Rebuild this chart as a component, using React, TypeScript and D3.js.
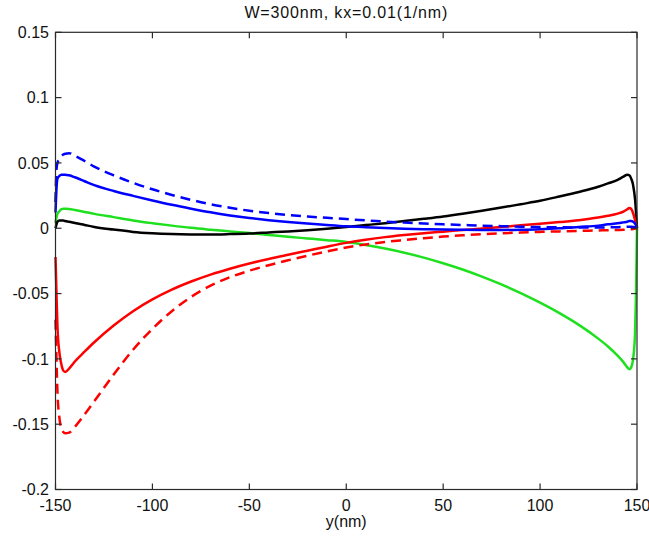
import React from "react";
import * as d3 from "d3";

// sample positions along y (nm)
const yPos = [-150, -149.5, -149, -148, -147, -146, -145, -143, -140, -135, -130, -120, -110, -100, -90, -80, -70, -60, -50, -40, -30, -20, -10, 0, 10, 20, 30, 40, 50, 60, 70, 80, 90, 100, 110, 120, 130, 135, 140, 143, 145, 146, 147, 148, 149, 149.5, 150];

const blackSolid = [0, 0.003, 0.005, 0.006, 0.006, 0.006, 0.0055, 0.005, 0.004, 0.0025, 0.001, -0.001, -0.0028, -0.0038, -0.0044, -0.0047, -0.0048, -0.0045, -0.004, -0.0032, -0.0024, -0.0015, -0.0004, 0.0009, 0.0024, 0.0039, 0.0055, 0.0072, 0.009, 0.0111, 0.0134, 0.0158, 0.0184, 0.021, 0.0243, 0.0278, 0.0318, 0.0343, 0.037, 0.0395, 0.041, 0.0405, 0.038, 0.033, 0.022, 0.012, 0];

const blueSolid = [0.012, 0.03, 0.038, 0.04, 0.041, 0.041, 0.041, 0.0405, 0.039, 0.036, 0.033, 0.0285, 0.0248, 0.0213, 0.018, 0.015, 0.0122, 0.0098, 0.0078, 0.0062, 0.0048, 0.0036, 0.0025, 0.0015, 0.0008, 0.0002, -0.0003, -0.0007, -0.001, -0.0012, -0.0013, -0.0013, -0.0011, -0.0007, 0, 0.001, 0.002, 0.003, 0.0038, 0.0045, 0.005, 0.0055, 0.0055, 0.005, 0.0035, 0.002, 0];

const blueDashed = [0.02, 0.045, 0.05, 0.053, 0.055, 0.0565, 0.057, 0.0575, 0.0555, 0.0515, 0.0472, 0.0405, 0.0348, 0.0298, 0.0255, 0.0217, 0.0184, 0.0157, 0.0134, 0.0116, 0.0102, 0.009, 0.008, 0.007, 0.006, 0.0051, 0.0043, 0.0036, 0.003, 0.0025, 0.002, 0.0016, 0.0012, 0.0009, 0.0007, 0.0006, 0.0006, 0.0007, 0.0008, 0.001, 0.0012, 0.0012, 0.0012, 0.001, 0.0006, 0.0003, 0];

const greenSolid = [0.004, 0.008, 0.011, 0.013, 0.0145, 0.015, 0.015, 0.0148, 0.014, 0.0125, 0.011, 0.0085, 0.006, 0.0039, 0.002, 0.0003, -0.0011, -0.0024, -0.0037, -0.0051, -0.0065, -0.0078, -0.0091, -0.0105, -0.0128, -0.0155, -0.0187, -0.0225, -0.0268, -0.0316, -0.037, -0.043, -0.0497, -0.057, -0.065, -0.074, -0.0845, -0.0905, -0.0975, -0.1025, -0.1065, -0.108, -0.1065, -0.1, -0.08, -0.05, 0];

const redSolid = [-0.022, -0.05, -0.075, -0.095, -0.104, -0.109, -0.11, -0.1075, -0.102, -0.0945, -0.0873, -0.0745, -0.0635, -0.0545, -0.047, -0.0408, -0.0355, -0.031, -0.027, -0.0235, -0.0203, -0.0172, -0.0141, -0.0112, -0.0088, -0.0068, -0.0052, -0.0038, -0.0026, -0.0014, -0.0002, 0.001, 0.0022, 0.0034, 0.0047, 0.0062, 0.0082, 0.0095, 0.0112, 0.0128, 0.0145, 0.0155, 0.0148, 0.0115, 0.0062, 0.003, 0];

const redDashed = [-0.07, -0.1, -0.125, -0.145, -0.153, -0.156, -0.157, -0.1565, -0.152, -0.1425, -0.1325, -0.112, -0.093, -0.077, -0.0635, -0.0525, -0.044, -0.0375, -0.0325, -0.0283, -0.0245, -0.021, -0.0178, -0.0148, -0.0124, -0.0105, -0.009, -0.0076, -0.0064, -0.0054, -0.0046, -0.0039, -0.0033, -0.0028, -0.0024, -0.002, -0.0017, -0.0015, -0.0013, -0.0012, -0.001, -0.001, -0.0008, -0.0006, -0.0003, -0.0002, 0];

const xTicks = [-150, -100, -50, 0, 50, 100, 150];
const yTicks = [0.15, 0.1, 0.05, 0, -0.05, -0.1, -0.15, -0.2];
const titleText = "W=300nm, kx=0.01(1/nm)";
const xLabelText = "y(nm)";

const seriesList = [
  { name: "green", values: greenSolid, color: "#1ee01e", dashed: false },
  { name: "black", values: blackSolid, color: "#000000", dashed: false },
  { name: "red", values: redSolid, color: "#ff0000", dashed: false },
  { name: "blue", values: blueSolid, color: "#0000ff", dashed: false },
  { name: "redDashed", values: redDashed, color: "#ff0000", dashed: true },
  { name: "blueDashed", values: blueDashed, color: "#0000ff", dashed: true },
];

const W = 649;
const H = 545;
const left = 55.5;
const right = 637;
const top = 32.3;
const bottom = 489.5;

export default function App() {
  const x = d3.scaleLinear().domain([-150, 150]).range([left, right]);
  const y = d3.scaleLinear().domain([-0.2, 0.15]).range([bottom, top]);
  const line = d3
    .line<number>()
    .x((_, i) => x(yPos[i]))
    .y((d) => y(d))
    .curve(d3.curveMonotoneX);
  const font = "'Liberation Sans', Arial, Helvetica, sans-serif";
  const axisColor = "#2a2a2a";
  const tickLen = 6;
  const fmtY = (v: number) => (v === 0 ? "0" : String(v));
  return (
    <svg
      width={W}
      height={H}
      style={{ position: "absolute", left: 0, top: 0, background: "#fff" }}
      fontFamily={font}
    >
      <rect x={0} y={0} width={W} height={H} fill="#fff" />
      <text x={(left + right) / 2} y={18.3} textAnchor="middle" fontSize={16} letterSpacing={0.85} fill="#111">
        {titleText}
      </text>
      {seriesList.map((s) => (
        <path
          key={s.name}
          d={line(s.values) || ""}
          fill="none"
          stroke={s.color}
          strokeWidth={2.5}
          strokeDasharray={s.dashed ? "10,6" : undefined}
          strokeLinejoin="round"
        />
      ))}
      <rect x={left} y={top} width={right - left} height={bottom - top} fill="none" stroke={axisColor} strokeWidth={1.2} />
      {xTicks.map((t) => (
        <g key={"xt" + t}>
          <line x1={x(t)} x2={x(t)} y1={bottom} y2={bottom - tickLen} stroke={axisColor} strokeWidth={1.2} />
          <line x1={x(t)} x2={x(t)} y1={top} y2={top + tickLen} stroke={axisColor} strokeWidth={1.2} />
          <text x={x(t)} y={510.5} textAnchor="middle" fontSize={16} fill="#111">
            {String(t)}
          </text>
        </g>
      ))}
      {yTicks.map((t) => (
        <g key={"yt" + t}>
          <line x1={left} x2={left + tickLen} y1={y(t)} y2={y(t)} stroke={axisColor} strokeWidth={1.2} />
          <line x1={right} x2={right - tickLen} y1={y(t)} y2={y(t)} stroke={axisColor} strokeWidth={1.2} />
          <text x={49} y={y(t)} dy="0.36em" textAnchor="end" fontSize={16} fill="#111">
            {fmtY(t)}
          </text>
        </g>
      ))}
      <text x={(left + right) / 2} y={527} textAnchor="middle" fontSize={16} fill="#111">
        {xLabelText}
      </text>
    </svg>
  );
}
